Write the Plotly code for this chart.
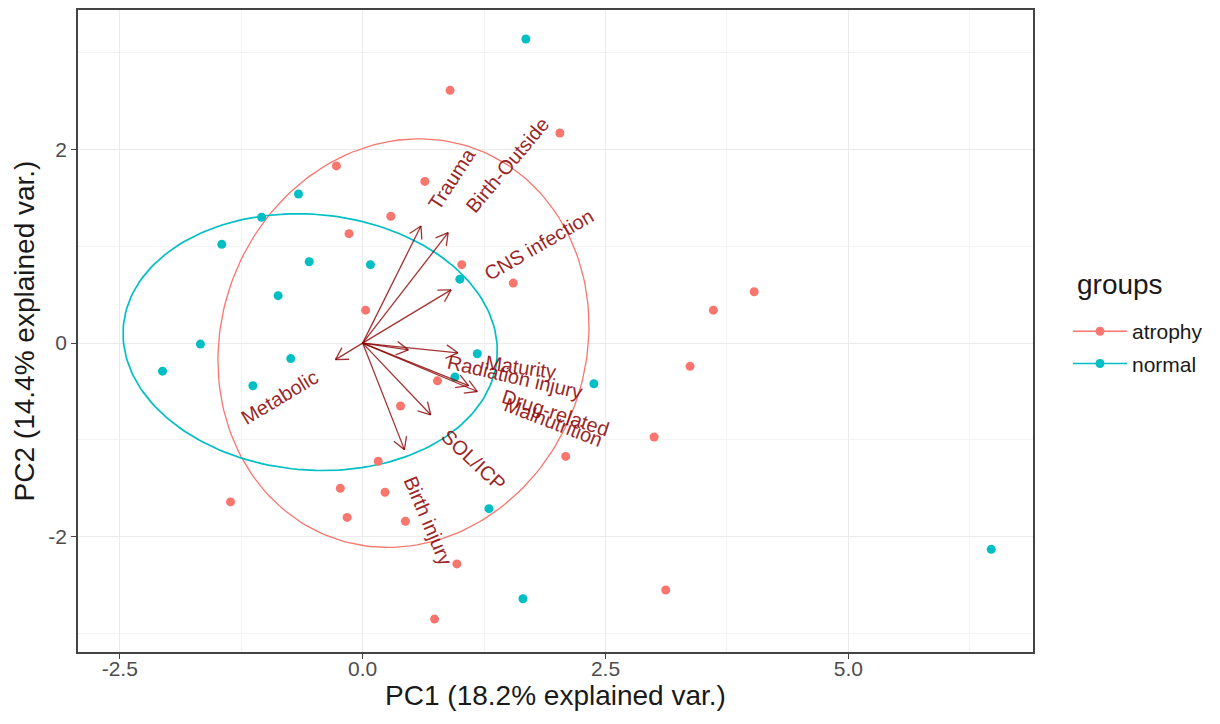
import numpy as np
import plotly.graph_objects as go

# ---------------- data ----------------
atrophy_pc1 = [0.90, 2.03, -0.27, 0.64, 0.29, -0.14, 1.02, 1.55, 0.03, 3.61, 4.03, 3.37, 0.77,
               0.39, 3.00, 2.09, 0.16, -0.23, 0.23, -0.16, 0.44, -1.36, 0.97, 3.12, 0.74]
atrophy_pc2 = [2.61, 2.17, 1.83, 1.67, 1.31, 1.13, 0.81, 0.62, 0.34, 0.34, 0.53, -0.24, -0.39,
               -0.65, -0.97, -1.17, -1.22, -1.50, -1.54, -1.80, -1.84, -1.64, -2.28, -2.55, -2.85]

normal_pc1 = [1.68, -0.66, -1.04, -1.45, -0.55, 0.08, -0.87, 1.00, -1.67, -2.06, -0.74, -1.13,
              1.18, 0.95, 2.38, 1.30, 1.65, 6.47]
normal_pc2 = [3.14, 1.54, 1.30, 1.02, 0.84, 0.81, 0.49, 0.66, -0.01, -0.29, -0.16, -0.44,
              -0.11, -0.35, -0.42, -1.71, -2.64, -2.13]

var_names = ["Trauma", "Birth-Outside", "CNS infection", "Metabolic", "Maturity",
             "Radiation injury", "Drug-related", "Malnutrition", "SOL/ICP", "Birth injury"]
var_pc1 = [0.60, 0.88, 0.91, -0.28, 0.98, 0.47, 1.09, 1.18, 0.70, 0.43]
var_pc2 = [1.21, 1.14, 0.55, -0.17, -0.10, -0.07, -0.44, -0.50, -0.74, -1.10]
label_pc1 = [0.92, 1.49, 1.81, -0.85, 1.62, 1.57, 1.99, 1.96, 1.14, 0.67]
label_pc2 = [1.69, 1.84, 1.01, -0.56, -0.25, -0.35, -0.72, -0.81, -1.21, -1.83]
label_angle = [-57, -50, -30, -31, 8, 13, 18, 21, 43, 67]

# ellipse parameters: centre, semi-axes, rotation (deg)
ell_groups = ["atrophy", "normal"]
ell_cx = [0.42, -0.54]
ell_cy = [0.00, 0.01]
ell_a = [1.877, 1.93]
ell_b = [2.139, 1.32]
ell_rot = [-20, -5]
ell_width = [1.3, 1.7]

group_colors = {"atrophy": "#F8766D", "normal": "#00BFC4"}

x_ticks = [-2.5, 0.0, 2.5, 5.0]
x_ticktext = ["-2.5", "0.0", "2.5", "5.0"]
y_ticks = [-2, 0, 2]
y_ticktext = ["-2", "0", "2"]

FONT = "Liberation Sans, Arial"

fig = go.Figure()

# ellipses
t = np.linspace(0, 2 * np.pi, 200)
for g, cx, cy, a, b, r, w in zip(ell_groups, ell_cx, ell_cy, ell_a, ell_b, ell_rot, ell_width):
    phi = np.deg2rad(r)
    ex = a * np.cos(t)
    ey = b * np.sin(t)
    xs = cx + ex * np.cos(phi) - ey * np.sin(phi)
    ys = cy + ex * np.sin(phi) + ey * np.cos(phi)
    fig.add_trace(go.Scatter(x=xs, y=ys, mode="lines", line=dict(color=group_colors[g], width=w),
                             showlegend=False, hoverinfo="skip"))

# points
fig.add_trace(go.Scatter(x=atrophy_pc1, y=atrophy_pc2, mode="markers",
                         marker=dict(color=group_colors["atrophy"], size=9), showlegend=False))
fig.add_trace(go.Scatter(x=normal_pc1, y=normal_pc2, mode="markers",
                         marker=dict(color=group_colors["normal"], size=9), showlegend=False))

# arrows
arrow_col = "rgba(139,0,0,0.8)"
head_len = 0.14
head_ang = np.deg2rad(30)
ax, ay = [], []
for vx, vy in zip(var_pc1, var_pc2):
    ax += [0, vx, None]
    ay += [0, vy, None]
    ang = np.arctan2(vy, vx)
    for s in (1, -1):
        hx = vx - head_len * np.cos(ang + s * head_ang)
        hy = vy - head_len * np.sin(ang + s * head_ang)
        ax += [vx, hx, None]
        ay += [vy, hy, None]
fig.add_trace(go.Scatter(x=ax, y=ay, mode="lines", line=dict(color=arrow_col, width=1.3),
                         showlegend=False, hoverinfo="skip"))

# variable labels
for name, lx, ly, la in zip(var_names, label_pc1, label_pc2, label_angle):
    fig.add_annotation(x=lx, y=ly, text=name, showarrow=False, textangle=la,
                       font=dict(family=FONT, size=20, color="#8B0000"),
                       xanchor="center", yanchor="middle", opacity=0.85)

# legend entries
for g in ["atrophy", "normal"]:
    fig.add_trace(go.Scatter(x=[None], y=[None], mode="lines+markers", name=g, legendgroup=g,
                             line=dict(color=group_colors[g], width=1.6),
                             marker=dict(color=group_colors[g], size=9)))

# legend title
fig.add_annotation(xref="paper", yref="paper", x=(1075 - 78) / 955, y=(652 - 283) / 644,
                   xanchor="left", yanchor="middle", text="groups", showarrow=False,
                   font=dict(family=FONT, size=28, color="#1A1A1A"))

grid_major = "#EBEBEB"
grid_minor = "#F3F3F3"
fig.update_xaxes(range=[-2.93, 6.90], tickvals=x_ticks, ticktext=x_ticktext,
                 showgrid=True, gridcolor=grid_major, gridwidth=1.2,
                 minor=dict(tickvals=[-1.25, 1.25, 3.75, 6.25], showgrid=True, gridcolor=grid_minor,
                            gridwidth=0.8, ticks=""),
                 zeroline=False, showline=True, mirror=True, linecolor="#444444", linewidth=1.6,
                 ticks="outside", ticklen=5, tickcolor="#444444", ticklabelstandoff=-8,
                 tickfont=dict(family=FONT, size=21, color="#4D4D4D"),
                 title=dict(text="PC1 (18.2% explained var.)", standoff=4,
                            font=dict(family=FONT, size=28, color="#1A1A1A")))
fig.update_yaxes(range=[-3.19, 3.44], tickvals=y_ticks, ticktext=y_ticktext,
                 showgrid=True, gridcolor=grid_major, gridwidth=1.2,
                 minor=dict(tickvals=[-3, -1, 1, 3], showgrid=True, gridcolor=grid_minor,
                            gridwidth=0.8, ticks=""),
                 zeroline=False, showline=True, mirror=True, linecolor="#444444", linewidth=1.6,
                 ticks="outside", ticklen=5, tickcolor="#444444",
                 tickfont=dict(family=FONT, size=21, color="#4D4D4D"),
                 title=dict(text="PC2 (14.4% explained var.)", standoff=6,
                            font=dict(family=FONT, size=28, color="#1A1A1A")))

fig.update_layout(
    width=1220, height=724,
    margin=dict(l=78, r=187, t=8, b=72),
    plot_bgcolor="white", paper_bgcolor="white",
    showlegend=True,
    legend=dict(x=(1068 - 78) / 955, y=(652 - 310) / 644, xanchor="left", yanchor="top",
                font=dict(family=FONT, size=21, color="#1A1A1A"),
                tracegroupgap=2, itemwidth=54, bgcolor="rgba(0,0,0,0)"),
)

fig.write_html("out.html")
